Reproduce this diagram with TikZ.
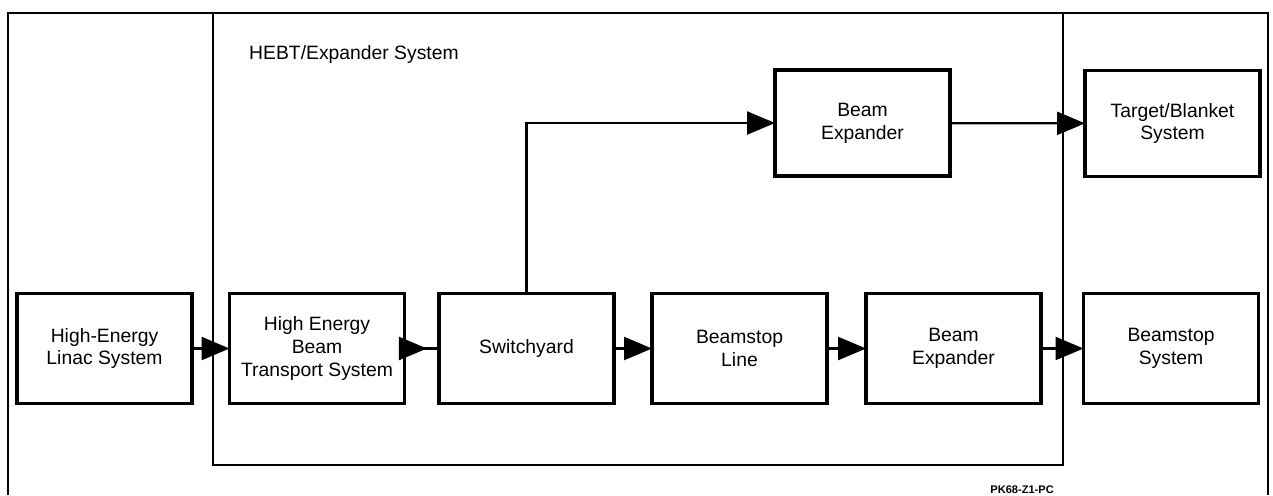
\documentclass[tikz,border=0pt]{standalone}
\usepackage{fontspec}
\setmainfont{Liberation Sans}
\usetikzlibrary{arrows.meta, positioning, decorations.markings}

\begin{document}
\begin{tikzpicture}[
    x=0.02cm, y=-0.02cm,
    >={Triangle[length=0.56cm, width=0.46cm]},
    blk/.style={draw, line width=2pt, minimum width=3.5cm, minimum height=2.2cm, inner sep=0pt, outer sep=0pt, font=\fontsize{11}{13}\selectfont, align=center},
    flow/.style={line width=1.3pt, ->},
    frame/.style={line width=1.2pt},
]
    \useasboundingbox (0,0) rectangle (1273,495);

    % outer frame, open at the bottom
    \draw[frame] (8,495) -- (8,13) -- (1268,13) -- (1268,495);
    % HEBT/Expander system
    \draw[frame] (213,13) rectangle (1063,465);
    \node[anchor=west, font=\fontsize{11}{13}\selectfont] (hebtlbl) at (243,54) {HEBT/Expander System};

    \node[blk] (linac) at (104.5,348.5) {High-Energy\\Linac System};
    \node[blk] (hebt) at (317,348.5) {High Energy\\Beam\\Transport System};
    \node[blk] (switch) at (526.5,348.5) {Switchyard};
    \node[blk] (bsline) at (739.5,348.5) {Beamstop\\Line};
    \node[blk] (bexp) at (953.5,348.5) {Beam\\Expander};
    \node[blk] (bstop) at (1171,348.5) {Beamstop\\System};

    \node[blk, minimum height=2.12cm] (topexp) at (862.5,123) {Beam\\Expander};
    \node[blk, minimum height=2.12cm] (target) at (1172.5,123.5) {Target/Blanket\\System};

    \draw[flow] (linac) -- (hebt);
    \draw[line width=1.3pt, postaction={decorate},
        decoration={markings, mark=at position 0.65 with {\arrow{>}}}] (hebt) -- (switch);
    \draw[flow] (switch) -- (bsline);
    \draw[flow] (bsline) -- (bexp);
    \draw[flow] (bexp) -- (bstop);
    \draw[flow] (switch.north) |- (topexp.west);
    \draw[flow] (topexp) -- (target);

    \node[anchor=east, font=\fontsize{6.3}{7}\selectfont\bfseries] (tag) at (1060,490) {PK68-Z1-PC};
\end{tikzpicture}
\end{document}
